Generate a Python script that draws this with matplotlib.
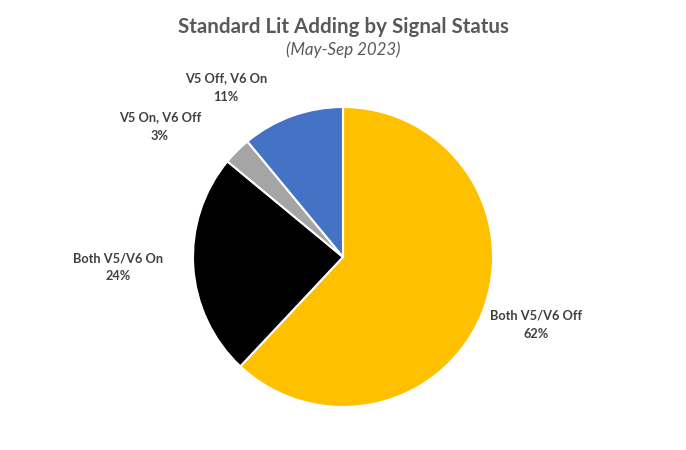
import matplotlib
matplotlib.use("Agg")
import matplotlib.pyplot as plt

# slices, clockwise from 12 o'clock
labels = ["Both V5/V6 Off", "Both V5/V6 On", "V5 On, V6 Off", "V5 Off, V6 On"]
values = [62, 24, 3, 11]
colors = ["#FFC000", "#000000", "#A5A5A5", "#4472C4"]

# label centres in pie-radius units
label_pos = [(1.29, -0.45), (-1.50, -0.07), (-1.22, 0.87), (-0.78, 1.13)]

plt.rcParams['font.family'] = ['Lato', 'DejaVu Sans']

fig = plt.figure(figsize=(6.86, 4.5), dpi=100)
ax = fig.add_axes([193/686, 43/450, 300/686, 300/450])

wedges, _ = ax.pie(values, colors=colors, startangle=90, counterclock=False,
                   wedgeprops=dict(edgecolor="white", linewidth=1.5), radius=1)
ax.set_xlim(-1, 1)
ax.set_ylim(-1, 1)
ax.set_aspect("equal")

for lab, v, (x, y) in zip(labels, values, label_pos):
    ax.text(x, y, "%s\n%d%%" % (lab, v), ha="center", va="center",
            fontsize=9.2, fontweight="bold", color="#404040", linespacing=1.6,
            clip_on=False)

fig.text(0.5, 1 - 27/450, "Standard Lit Adding by Signal Status", ha="center",
         va="center", fontsize=14.8, fontweight="bold", color="#595959")
fig.text(0.5, 1 - 50/450, "(May-Sep 2023)", ha="center", va="center",
         fontsize=12.2, style="italic", color="#595959")

fig.savefig("out.png", dpi=100)
